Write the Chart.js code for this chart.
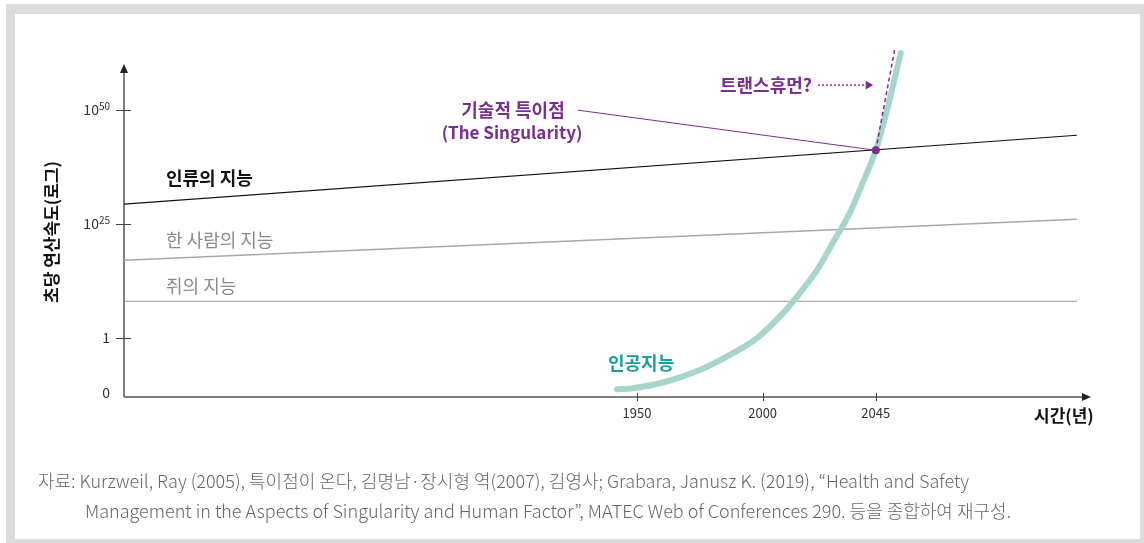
<!DOCTYPE html>
<html>
<head>
<meta charset="utf-8">
<script src="https://cdn.jsdelivr.net/npm/chart.js@4.4.0/dist/chart.umd.min.js"></script>
<style>
  html, body { margin: 0; padding: 0; background: #fff; }
  #wrap { width: 1144px; height: 543px; }
</style>
</head>
<body>
<div id="wrap"><canvas id="myChart" width="1144" height="543"></canvas></div>
<script>
// eixo x = ano, eixo y = expoente (log) da velocidade de calculo
const xTicks = [1950, 2000, 2045];
const yTicks = [-13, 0, 25, 50];
const yTickLabels = [['0', ''], ['1', ''], ['10', '25'], ['10', '50']];

const aiYears = [1942.1, 1948.4, 1961.9, 1975.0, 1988.2, 1997.7, 2008.1, 2014.8, 2021.6, 2027.9, 2034.7, 2039.8, 2045, 2049.8, 2053.0, 2054.9];
const aiSpeed = [-11.3, -11.1, -9.6, -7.1, -3.4, -0.1, 5.4, 9.8, 14.8, 20.8, 27.4, 34.0, 41.1, 50.6, 58.0, 62.4];

const lineYears = [1746, 2125];
const humanSpeed = [29.3, 44.4];
const personSpeed = [17.0, 26.0];
const ratSpeed = [8.0, 8.0];

const singYear = [2045];
const singSpeed = [41.1];
const leaderYears = [1926.5, 2045];
const leaderSpeed = [49.9, 41.1];
const transYears = [2045, 2052.5];
const transSpeed = [41.1, 63.2];
const arrowYears = [2022, 2042];
const arrowSpeed = [55.4, 55.4];

const purple = '#7a2e8e';
const teal = '#1a9e9b';
const font = '"Noto Sans CJK KR", "Noto Sans", sans-serif';

function pts(xs, ys) {
  return xs.map((x, i) => ({ x: x, y: ys[i] }));
}

const desenho = {
  id: 'desenho',
  beforeDraw(chart) {
    const c = chart.ctx;
    c.save();
    c.fillStyle = '#dcdcdc';
    c.fillRect(6, 4, 1138, 539);
    c.fillStyle = '#fff';
    c.fillRect(15, 14, 1125, 525);
    c.restore();
  },
  beforeDatasetsDraw(chart) {
    const c = chart.ctx;
    const xs = chart.scales.x, ys = chart.scales.y;
    const x0 = xs.left, y0 = ys.bottom;
    c.save();
    c.strokeStyle = '#555';
    c.fillStyle = '#222';
    c.lineWidth = 1.5;
    // eixo y
    c.beginPath();
    c.moveTo(x0, y0);
    c.lineTo(x0, 70);
    c.stroke();
    c.beginPath();
    c.moveTo(x0, 64);
    c.lineTo(x0 - 4, 73);
    c.lineTo(x0 + 4, 73);
    c.closePath();
    c.fill();
    // eixo x
    c.beginPath();
    c.moveTo(x0, y0);
    c.lineTo(1084, y0);
    c.stroke();
    c.beginPath();
    c.moveTo(1091, y0);
    c.lineTo(1082, y0 - 4);
    c.lineTo(1082, y0 + 4);
    c.closePath();
    c.fill();
    // ticks
    c.lineWidth = 1;
    c.strokeStyle = '#444';
    xTicks.forEach(v => {
      const px = Math.round(xs.getPixelForValue(v)) + 0.5;
      c.beginPath();
      c.moveTo(px, y0 - 4);
      c.lineTo(px, y0 + 4);
      c.stroke();
    });
    yTicks.slice(1).forEach(v => {
      const py = Math.round(ys.getPixelForValue(v)) + 0.5;
      c.beginPath();
      c.moveTo(x0 - 8, py);
      c.lineTo(x0 + 7, py);
      c.stroke();
    });
    // rotulos
    c.fillStyle = '#333';
    c.font = '13px ' + font;
    c.textAlign = 'center';
    c.textBaseline = 'middle';
    xTicks.forEach(v => {
      c.fillText(String(v), xs.getPixelForValue(v), 413);
    });
    yTicks.forEach((v, i) => {
      const py = ys.getPixelForValue(v) - (i === 0 ? 4 : 0);
      const base = yTickLabels[i][0], sup = yTickLabels[i][1];
      c.font = '10px ' + font;
      const sw = sup ? c.measureText(sup).width : 0;
      c.textAlign = 'right';
      if (sup) c.fillText(sup, 110, py - 4);
      c.font = '14px ' + font;
      c.fillText(base, 110 - sw, py);
    });
    c.restore();
  },
  afterDraw(chart) {
    const c = chart.ctx;
    c.save();
    c.textBaseline = 'middle';
    c.textAlign = 'left';
    c.font = 'bold 18px ' + font;
    c.fillStyle = '#111';
    c.fillText('인류의 지능', 166, 178);
    c.font = '18px ' + font;
    c.fillStyle = '#8a8a8a';
    c.fillText('한 사람의 지능', 166, 240);
    c.fillText('쥐의 지능', 166, 286);
    c.font = 'bold 18px ' + font;
    c.fillStyle = teal;
    c.fillText('인공지능', 608, 363);
    c.fillStyle = purple;
    c.textAlign = 'center';
    c.fillText('기술적 특이점', 513, 110);
    c.font = 'bold 17px ' + font;
    c.fillText('(The Singularity)', 512, 133);
    c.font = 'bold 18px ' + font;
    c.textAlign = 'left';
    c.fillText('트랜스휴먼?', 720, 85);
    c.fillStyle = '#111';
    c.font = 'bold 17px ' + font;
    c.fillText('시간(년)', 1034, 416);
    c.save();
    c.translate(52, 232);
    c.rotate(-Math.PI / 2);
    c.textAlign = 'center';
    c.fillText('초당 연산속도(로그)', 0, 0);
    c.restore();
    // fonte
    c.font = '300 18px ' + font;
    c.fillStyle = '#666';
    c.fillText('자료: Kurzweil, Ray (2005), 특이점이 온다, 김명남·장시형 역(2007), 김영사; Grabara, Janusz K. (2019), “Health and Safety', 38, 481, 947);
    c.fillText('Management in the Aspects of Singularity and Human Factor”, MATEC Web of Conferences 290. 등을 종합하여 재구성.', 85, 511, 935);
    c.restore();
  }
};

const ctx = document.getElementById('myChart');
new Chart(ctx, {
  type: 'line',
  data: {
    datasets: [
      { label: 'singularidade', data: pts(singYear, singSpeed), showLine: false, pointRadius: 4, pointBackgroundColor: purple, pointBorderWidth: 0 },
      { label: 'leader', data: pts(leaderYears, leaderSpeed), borderColor: purple, borderWidth: 1, pointRadius: 0 },
      { label: 'seta', data: pts(arrowYears, arrowSpeed), borderColor: purple, borderWidth: 1.5, borderDash: [2, 2],
        pointRadius: [0, 5], pointStyle: 'triangle', rotation: 90, pointBackgroundColor: purple, pointBorderWidth: 0 },
      { label: 'transhumano', data: pts(transYears, transSpeed), borderColor: purple, borderWidth: 1.5, borderDash: [4, 3], pointRadius: 0 },
      { label: '인공지능', data: pts(aiYears, aiSpeed), borderColor: '#a8d5cb', borderWidth: 6, borderCapStyle: 'round',
        cubicInterpolationMode: 'monotone', pointRadius: 0 },
      { label: '인류의 지능', data: pts(lineYears, humanSpeed), borderColor: '#111', borderWidth: 1.2, pointRadius: 0 },
      { label: '한 사람의 지능', data: pts(lineYears, personSpeed), borderColor: '#a8a8a8', borderWidth: 1.5, pointRadius: 0 },
      { label: '쥐의 지능', data: pts(lineYears, ratSpeed), borderColor: '#9a9a9a', borderWidth: 1.2, pointRadius: 0 }
    ]
  },
  options: {
    responsive: false,
    animation: false,
    devicePixelRatio: 1,
    layout: { padding: { left: 124, right: 57, top: 41.3, bottom: 146 } },
    plugins: { legend: { display: false }, tooltip: { enabled: false } },
    scales: {
      x: { type: 'linear', min: 1746, max: 2129, display: false },
      y: { type: 'linear', min: -13, max: 65, display: false }
    }
  },
  plugins: [desenho]
});
</script>
</body>
</html>
